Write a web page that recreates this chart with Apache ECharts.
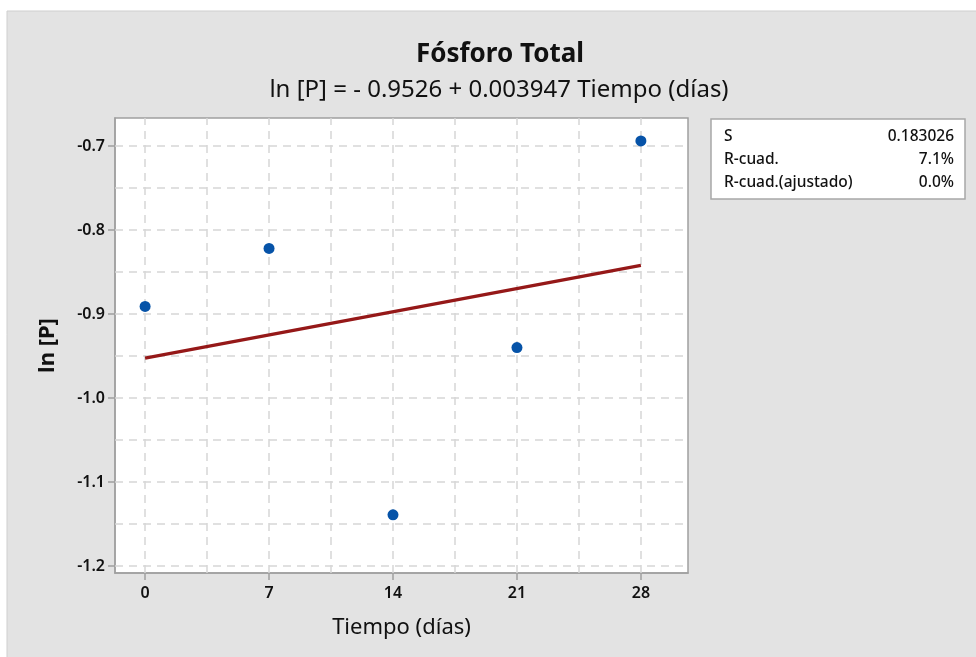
<!DOCTYPE html>
<html>
<head>
<meta charset="utf-8">
<script src="https://cdn.jsdelivr.net/npm/echarts@6/dist/echarts.min.js"></script>
<style>
html,body{margin:0;padding:0;background:#ffffff;}
#chart{width:976px;height:657px;}
</style>
</head>
<body>
<div id="chart"></div>
<script>
// ---- data ----
var tiempo = [0, 7, 14, 21, 28];
var lnP = [-0.891, -0.822, -1.139, -0.940, -0.694];
var fitX = [0, 28];
var fitY = [-0.9526, -0.8421];
var xTicks = [0, 7, 14, 21, 28];
var yTicks = [-1.2, -1.1, -1.0, -0.9, -0.8, -0.7];
var statNames = ['S', 'R-cuad.', 'R-cuad.(ajustado)'];
var statValues = ['0.183026', '7.1%', '0.0%'];
var titleText = 'Fósforo Total';
var subtitleText = 'ln [P] = - 0.9526 + 0.003947 Tiempo (días)';
var xName = 'Tiempo (días)';
var yName = 'ln [P]';

var FONT = '"Noto Sans", "Open Sans", sans-serif';

var scatterData = tiempo.map(function (t, i) { return [t, lnP[i]]; });
var fitData = fitX.map(function (t, i) { return [t, fitY[i]]; });

// grid lines (major + minor) derived from tick arrays
var xGrid = [];
for (var i = 0; i < xTicks.length; i++) {
  xGrid.push(xTicks[i]);
  if (i < xTicks.length - 1) xGrid.push((xTicks[i] + xTicks[i + 1]) / 2);
}
var yGrid = [];
for (var j = 0; j < yTicks.length; j++) {
  yGrid.push(yTicks[j]);
  if (j < yTicks.length - 1) yGrid.push((yTicks[j] + yTicks[j + 1]) / 2);
}
var gridMarks = xGrid.map(function (v) { return { xAxis: v }; })
  .concat(yGrid.map(function (v) { return { yAxis: v }; }));

// stats box
var boxX = 711, boxY = 119, boxW = 254, boxH = 80;
var statGraphics = [{
  type: 'rect',
  shape: { x: boxX, y: boxY, width: boxW, height: boxH },
  style: { fill: '#ffffff', stroke: '#a8a8a8', lineWidth: 1.5 }
}];
statNames.forEach(function (n, k) {
  statGraphics.push({
    type: 'text', x: boxX + 13, y: boxY + 18 + k * 23,
    style: { text: n, font: '500 15.5px ' + FONT, fill: '#111', verticalAlign: 'middle' }
  });
  statGraphics.push({
    type: 'text', x: boxX + boxW - 11, y: boxY + 18 + k * 23,
    style: { text: statValues[k], font: '500 15.5px ' + FONT, fill: '#111', align: 'right', verticalAlign: 'middle' }
  });
});

var chart = echarts.init(document.getElementById('chart'), null, { renderer: 'canvas' });
chart.setOption({
  backgroundColor: '#ffffff',
  animation: false,
  graphic: [{
    type: 'rect', z: -10,
    shape: { x: 7, y: 11, width: 975, height: 650 },
    style: { fill: '#e3e3e3', stroke: '#cfcfcf', lineWidth: 1 }
  }].concat(statGraphics),
  title: [{
    text: titleText,
    left: 495, top: 37, textAlign: 'center',
    textStyle: { fontFamily: FONT, fontSize: 26, fontWeight: 'bold', color: '#111' }
  }, {
    text: subtitleText,
    left: 494, top: 73, textAlign: 'center',
    textStyle: { fontFamily: FONT, fontSize: 24, fontWeight: 'normal', color: '#111' }
  }],
  grid: {
    left: 115, top: 118, right: 288, bottom: 84,
    show: true, backgroundColor: '#ffffff', borderColor: '#a0a0a0', borderWidth: 1.5,
    containLabel: false
  },
  xAxis: {
    type: 'value', min: -1.70, max: 30.66,
    name: xName, nameLocation: 'middle', nameGap: 44,
    nameTextStyle: { fontFamily: FONT, fontSize: 22, color: '#111' },
    axisLine: { show: true, onZero: false, lineStyle: { color: '#a0a0a0', width: 1.5 } },
    axisTick: { show: true, customValues: xTicks, length: 7, lineStyle: { color: '#a0a0a0', width: 1.5 } },
    axisLabel: { customValues: xTicks, fontFamily: FONT, fontSize: 16, fontWeight: 600, color: '#111', margin: 12 },
    splitLine: { show: false }
  },
  yAxis: {
    type: 'value', min: -1.2083, max: -0.6667,
    name: yName, nameLocation: 'middle', nameGap: 56, nameRotate: 90,
    nameTextStyle: { fontFamily: FONT, fontSize: 22, fontWeight: 'bold', color: '#111' },
    axisLine: { show: true, onZero: false, lineStyle: { color: '#a0a0a0', width: 1.5 } },
    axisTick: { show: true, customValues: yTicks, length: 7, lineStyle: { color: '#a0a0a0', width: 1.5 } },
    axisLabel: {
      customValues: yTicks, fontFamily: FONT, fontSize: 16, fontWeight: 600, color: '#111', margin: 10,
      formatter: function (v) { return v.toFixed(1); }
    },
    splitLine: { show: false }
  },
  series: [{
    type: 'line', data: [], z: 1, silent: true,
    markLine: {
      z: 1, silent: true, symbol: ['none', 'none'], label: { show: false },
      lineStyle: { color: '#d6d6d6', width: 1.5, type: [8, 6] },
      emphasis: { disabled: true },
      data: gridMarks
    }
  }, {
    type: 'line', data: fitData, z: 3, symbol: 'none', silent: true,
    lineStyle: { color: '#951818', width: 3.2 }
  }, {
    type: 'scatter', data: scatterData, z: 4, symbol: 'circle', symbolSize: 11,
    itemStyle: { color: '#0653a8', opacity: 1 }
  }]
});
</script>
</body>
</html>
